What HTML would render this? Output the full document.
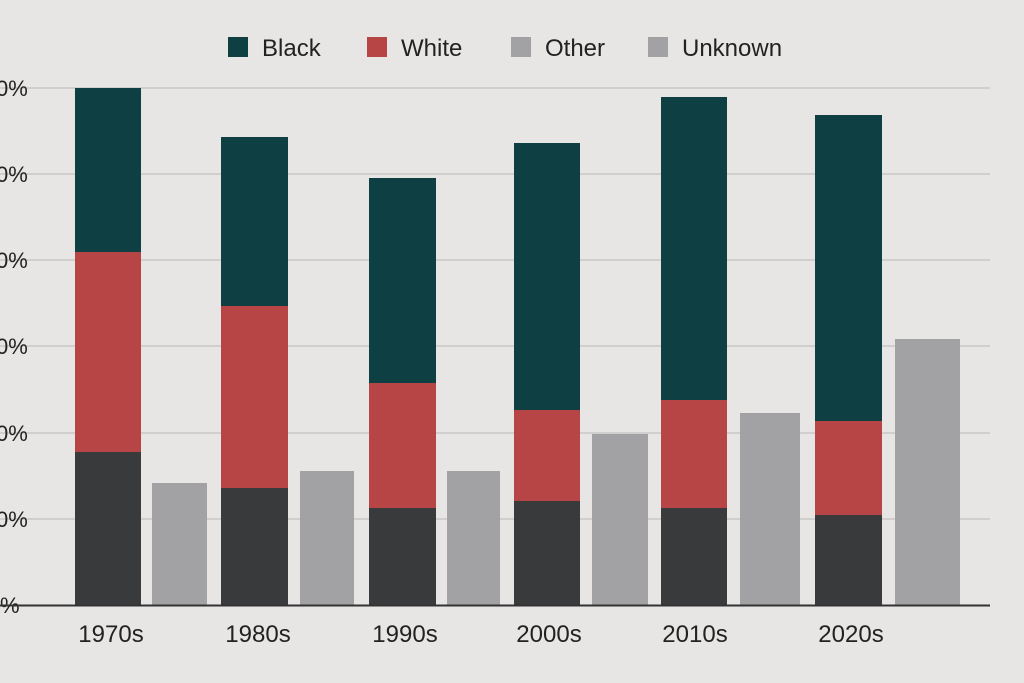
<!DOCTYPE html>
<html><head><style>
body{margin:0;background:#e7e6e4;}
svg{display:block}
text{font-family:"Liberation Sans","DejaVu Sans",sans-serif;fill:#222;}
</style></head><body>
<svg width="1024" height="683" viewBox="0 0 1024 683">
<rect width="1024" height="683" fill="#e7e6e4"/>
<g stroke="#b9b8b6" stroke-width="1">
<line x1="0" y1="88" x2="990" y2="88"/><line x1="0" y1="174" x2="990" y2="174"/>
<line x1="0" y1="260" x2="990" y2="260"/><line x1="0" y1="346" x2="990" y2="346"/>
<line x1="0" y1="433" x2="990" y2="433"/><line x1="0" y1="519" x2="990" y2="519"/>
</g>
<g font-size="22">
<text x="-4" y="96">0%</text><text x="-4" y="182">0%</text><text x="-4" y="268">0%</text>
<text x="-4" y="354">0%</text><text x="-4" y="441">0%</text><text x="-4" y="527">0%</text>
<text x="0" y="613">%</text>
</g>
<!-- legend -->
<rect x="228" y="37" width="20" height="20" fill="#0e3f42"/><text x="262" y="56" font-size="24">Black</text>
<rect x="367" y="37" width="20" height="20" fill="#b84545"/><text x="401" y="56" font-size="24">White</text>
<rect x="511" y="37" width="20" height="20" fill="#a2a1a3"/><text x="545" y="56" font-size="24">Other</text>
<rect x="648" y="37" width="20" height="20" fill="#a2a1a3"/><text x="682" y="56" font-size="24">Unknown</text>
<!-- bars -->
<g>
<rect x="75" y="88" width="66" height="164" fill="#0e3f42"/><rect x="75" y="252" width="66" height="200" fill="#b84545"/><rect x="75" y="452" width="66" height="153" fill="#393a3c"/>
<rect x="152" y="483" width="55" height="122" fill="#a2a1a3"/>
<rect x="221" y="137" width="67" height="169" fill="#0e3f42"/><rect x="221" y="306" width="67" height="182" fill="#b84545"/><rect x="221" y="488" width="67" height="117" fill="#393a3c"/>
<rect x="300" y="471" width="54" height="134" fill="#a2a1a3"/>
<rect x="369" y="178" width="67" height="205" fill="#0e3f42"/><rect x="369" y="383" width="67" height="125" fill="#b84545"/><rect x="369" y="508" width="67" height="97" fill="#393a3c"/>
<rect x="447" y="471" width="53" height="134" fill="#a2a1a3"/>
<rect x="514" y="143" width="66" height="267" fill="#0e3f42"/><rect x="514" y="410" width="66" height="91" fill="#b84545"/><rect x="514" y="501" width="66" height="104" fill="#393a3c"/>
<rect x="592" y="434" width="56" height="171" fill="#a2a1a3"/>
<rect x="661" y="97" width="66" height="303" fill="#0e3f42"/><rect x="661" y="400" width="66" height="108" fill="#b84545"/><rect x="661" y="508" width="66" height="97" fill="#393a3c"/>
<rect x="740" y="413" width="60" height="192" fill="#a2a1a3"/>
<rect x="815" y="115" width="67" height="306" fill="#0e3f42"/><rect x="815" y="421" width="67" height="94" fill="#b84545"/><rect x="815" y="515" width="67" height="90" fill="#393a3c"/>
<rect x="895" y="339" width="65" height="266" fill="#a2a1a3"/>
</g>
<line x1="0" y1="605.5" x2="990" y2="605.5" stroke="#333" stroke-width="2"/>
<g font-size="24" text-anchor="middle">
<text x="111" y="642">1970s</text><text x="258" y="642">1980s</text><text x="405" y="642">1990s</text>
<text x="549" y="642">2000s</text><text x="695" y="642">2010s</text><text x="851" y="642">2020s</text>
</g>
</svg>
</body></html>
